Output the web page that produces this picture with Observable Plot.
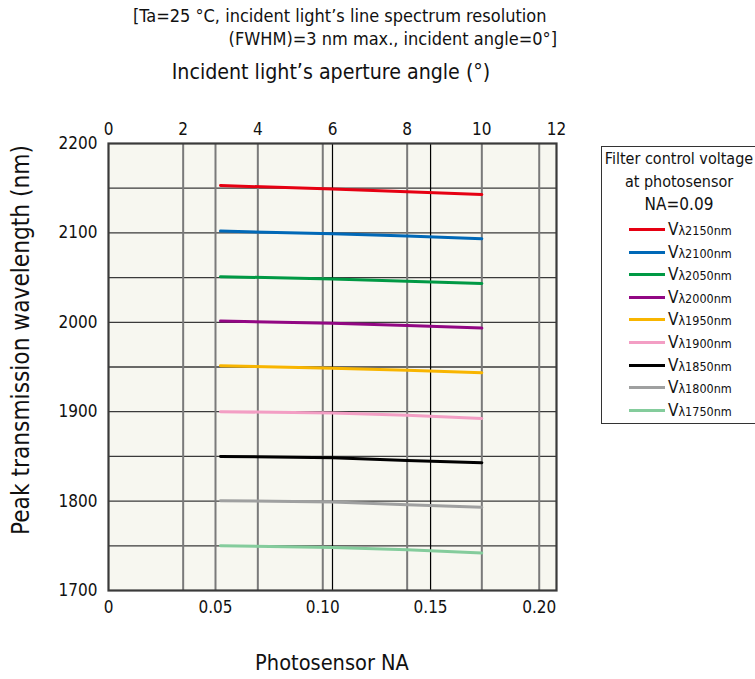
<!DOCTYPE html>
<html>
<head>
<meta charset="utf-8">
<script src="https://cdn.jsdelivr.net/npm/d3@7"></script>
<script src="https://cdn.jsdelivr.net/npm/@observablehq/plot@0.6"></script>
<style>
  html, body { margin: 0; padding: 0; background: #fff; }
  #wrap { position: relative; width: 755px; height: 679px; overflow: hidden;
          font-family: "DejaVu Sans Condensed", "DejaVu Sans", sans-serif; color: #111; }
  #wrap svg { position: absolute; left: 0; top: 0; }
  .t { position: absolute; white-space: nowrap; }
  #legend { position: absolute; left: 601px; top: 146px; width: 160px; height: 278px;
            border: 1px solid #333; box-sizing: border-box; background: #fff; }
  .lh { position: absolute; width: 154px; text-align: center; font-size: 16px; left: 0; }
  .li { position: absolute; left: 0; height: 20px; }
  .li .sw { position: absolute; left: 27px; top: 9px; width: 36px; height: 3px; }
  .li .lb { position: absolute; left: 66px; top: 0px; white-space: nowrap; font-size: 17px; line-height: 20px; }
  .li .lb small { font-size: 12.5px; }
</style>
</head>
<body>
<div id="wrap"></div>
<script>
// ---- data ----
const angles = [3, 6, 8, 10]; // incident light's aperture angle (deg)
const seriesNames = ["λ2150nm", "λ2100nm", "λ2050nm", "λ2000nm", "λ1950nm", "λ1900nm", "λ1850nm", "λ1800nm", "λ1750nm"];
const seriesColors = ["#e60012", "#0068b7", "#009944", "#920783", "#f8b500", "#f39ec4", "#000000", "#9fa0a0", "#84cc9c"];
const v2150 = [2153, 2149, 2146, 2143];
const v2100 = [2102, 2099, 2096.5, 2093.5];
const v2050 = [2051, 2048.5, 2046, 2043.5];
const v2000 = [2001.5, 1999, 1996.5, 1993.5];
const v1950 = [1951.5, 1948.5, 1946.5, 1943.5];
const v1900 = [1900, 1898.5, 1896, 1892.5];
const v1850 = [1850, 1848.5, 1845.5, 1843];
const v1800 = [1800.5, 1799, 1796, 1793];
const v1750 = [1750, 1748, 1745.5, 1742];
const seriesValues = [v2150, v2100, v2050, v2000, v1950, v1900, v1850, v1800, v1750];

const angleTicks = [0, 2, 4, 6, 8, 10, 12];
const naTicks = [0, 0.05, 0.10, 0.15, 0.20];
const naLabels = ["0", "0.05", "0.10", "0.15", "0.20"];
const yTicks = [1700, 1800, 1900, 2000, 2100, 2200];
const yGrid = [1750, 1800, 1850, 1900, 1950, 2000, 2050, 2100, 2150];
const angleGridGray = [2, 4, 8, 10];
const angleGridBlack = [6];
const naGridGray = [0.05, 0.10, 0.20];
const naGridBlack = [0.15];

// ---- build ----
const asinDeg = na => Math.asin(na) * 180 / Math.PI;
const rows = [];
seriesNames.forEach((name, s) => {
  seriesValues[s].forEach((v, i) => rows.push({series: name, angle: angles[i], value: v}));
});

const font = '"DejaVu Sans Condensed", "DejaVu Sans", sans-serif';
const chart = Plot.plot({
  width: 755,
  height: 679,
  marginLeft: 108,
  marginRight: 199,
  marginTop: 143,
  marginBottom: 89,
  style: {fontFamily: font, fontSize: "17px", color: "#111", background: "transparent"},
  x: {domain: [0, 12]},
  y: {domain: [1700, 2200]},
  color: {domain: seriesNames, range: seriesColors},
  marks: [
    Plot.frame({fill: "#f7f7f0", stroke: "none"}),
    Plot.ruleY(yGrid, {stroke: "#3a3a3a", strokeWidth: 1.3}),
    Plot.ruleX(angleGridGray, {stroke: "#7a7a7a", strokeWidth: 2}),
    Plot.ruleX(naGridGray.map(asinDeg), {stroke: "#7a7a7a", strokeWidth: 2}),
    Plot.ruleX(angleGridBlack, {stroke: "#000", strokeWidth: 1.2}),
    Plot.ruleX(naGridBlack.map(asinDeg), {stroke: "#000", strokeWidth: 1.2}),
    Plot.line(rows, {x: "angle", y: "value", z: "series", stroke: "series", strokeWidth: 3}),
    Plot.frame({stroke: "#3a3a3a", strokeWidth: 2.2}),
    Plot.axisX({anchor: "top", ticks: angleTicks, tickSize: 0, tickPadding: 9, label: null, fontSize: 17}),
    Plot.axisX({anchor: "bottom", ticks: naTicks.map(asinDeg), tickSize: 0, tickPadding: 10, label: null, fontSize: 17,
      tickFormat: d => naLabels[naTicks.findIndex(t => Math.abs(asinDeg(t) - d) < 1e-6)]}),
    Plot.axisY({ticks: yTicks, tickSize: 0, tickPadding: 11, label: null, fontSize: 17, tickFormat: d => String(d)})
  ]
});

const wrap = document.getElementById("wrap");
wrap.appendChild(chart);

function addText(txt, css) {
  const d = document.createElement("div");
  d.className = "t";
  d.textContent = txt;
  Object.assign(d.style, css);
  wrap.appendChild(d);
  return d;
}
addText("[Ta=25 °C, incident light’s line spectrum resolution", {left: "133px", top: "5px", fontSize: "18px"});
addText("(FWHM)=3 nm max., incident angle=0°]", {right: "198px", top: "28px", fontSize: "18px"});
addText("Incident light’s aperture angle (°)", {left: "331px", top: "59px", fontSize: "21.2px", transform: "translateX(-50%)"});
addText("Photosensor NA", {left: "332px", top: "650px", fontSize: "21.6px", transform: "translateX(-50%)"});
addText("Peak transmission wavelength (nm)", {left: "21px", top: "340px", fontSize: "24.2px", transform: "translate(-50%,-50%) rotate(-90deg)"});

const lg = document.createElement("div");
lg.id = "legend";
wrap.appendChild(lg);
["Filter control voltage", "at photosensor", "NA=0.09"].forEach((t, i) => {
  const d = document.createElement("div");
  d.className = "lh";
  d.textContent = t;
  d.style.top = (2 + i * 22.5) + "px";
  if (i === 2) d.style.fontSize = "17px";
  lg.appendChild(d);
});
seriesNames.forEach((name, i) => {
  const d = document.createElement("div");
  d.className = "li";
  d.style.top = (72 + i * 22.6) + "px";
  const sw = document.createElement("div");
  sw.className = "sw";
  sw.style.background = seriesColors[i];
  const lb = document.createElement("div");
  lb.className = "lb";
  lb.innerHTML = "V<small>" + name + "</small>";
  d.appendChild(sw);
  d.appendChild(lb);
  lg.appendChild(d);
});
</script>
</body>
</html>
